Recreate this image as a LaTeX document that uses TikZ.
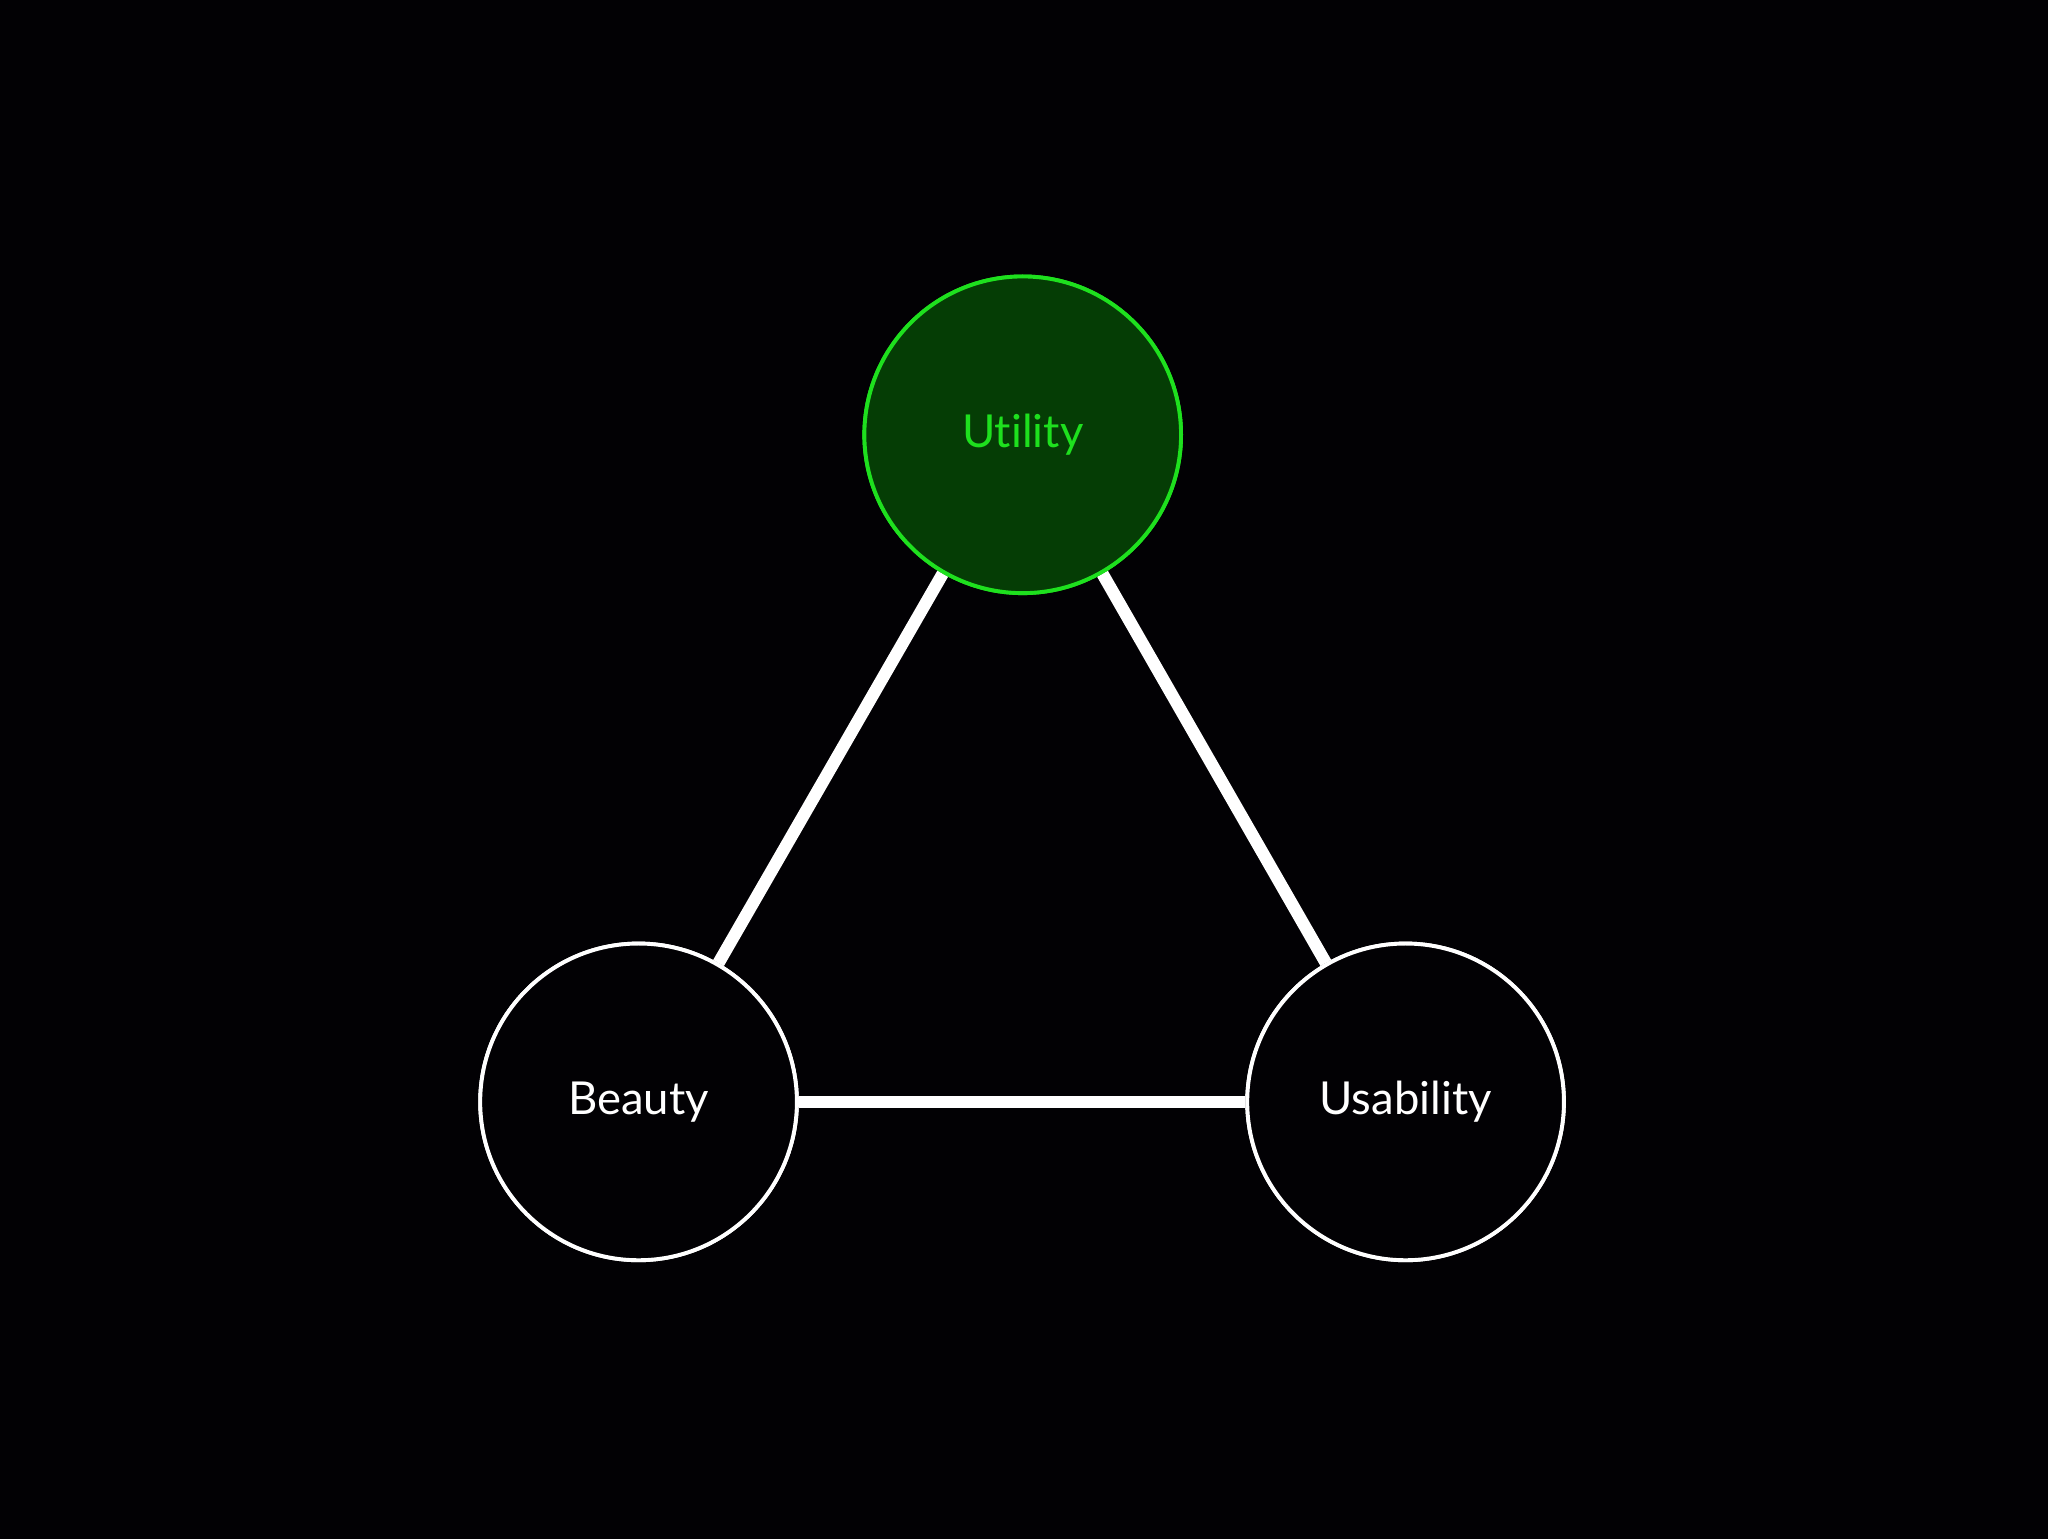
\documentclass[tikz,border=0pt]{standalone}
\usepackage{fontspec}
\setmainfont[Ligatures=NoCommon,Contextuals=NoAlternate]{Lato}
\definecolor{bg}{HTML}{020104}
\definecolor{gfill}{HTML}{053D05}
\definecolor{gline}{HTML}{1EE01E}
\begin{document}
\begin{tikzpicture}[x=1pt,y=-1pt,
  circ/.style={circle,minimum size=244pt,inner sep=0pt,line width=3pt,draw=white,fill=bg,text=white,font=\fontsize{35}{35}\selectfont},
  edge/.style={white,line width=9.5pt}]
\fill[bg] (-5,-5) rectangle (1573,1181);
\useasboundingbox (0,0) rectangle (1568,1176);
\node[circ,draw=gline,fill=gfill,text=gline] (u) at (783,330) {Utility};
\node[circ] (b) at (487,844) {Beauty};
\node[circ] (s) at (1078,844) {Usability};
\draw[edge] (u) -- (b);
\draw[edge] (u) -- (s);
\draw[edge] (b) -- (s);
\node[circ,draw=gline,fill=gfill,text=gline] at (783,330) {Utility};
\node[circ] at (487,844) {Beauty};
\node[circ] at (1078,844) {Usability};
\end{tikzpicture}
\end{document}
